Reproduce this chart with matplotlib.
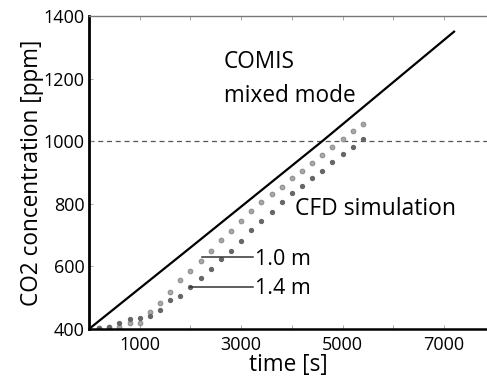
import matplotlib
matplotlib.use('Agg')
import matplotlib.pyplot as plt

plt.rcParams['font.family'] = ['Open Sans', 'DejaVu Sans']

# COMIS mixed mode (solid line)
comis_t = [0, 2000, 4600, 7200]
comis_c = [400, 660, 1000, 1350]

# CFD simulation at two heights
cfd_t = [200, 400, 600, 800, 1000, 1200, 1400, 1600, 1800, 2000, 2200, 2400, 2600, 2800,
         3000, 3200, 3400, 3600, 3800, 4000, 4200, 4400, 4600, 4800, 5000, 5200, 5400]
cfd_10 = [402, 405, 407, 418, 420, 455, 482, 519, 557, 585, 617, 650, 684, 713,
          746, 777, 805, 830, 855, 881, 905, 929, 955, 980, 1006, 1033, 1054]
cfd_14 = [402, 405, 418, 432, 434, 442, 461, 493, 506, 535, 564, 592, 623, 648,
          681, 716, 745, 775, 805, 834, 858, 883, 906, 934, 959, 982, 1008]

limit = 1000

fig = plt.figure(figsize=(4.87, 3.76), dpi=100)
ax = fig.add_axes([89/487, 1-329/376, 1-89/487, (329-16)/376])

ax.axhline(limit, color='#555555', lw=0.9, ls=(0, (4, 3)), zorder=1)
ax.plot(comis_t, comis_c, color='black', lw=1.6, zorder=3)
ax.plot(cfd_t, cfd_10, 'o', color='#a8a8a8', ms=3.3, mec='#909090', mew=0.8, zorder=2)
ax.plot(cfd_t, cfd_14, 'o', color='#666666', ms=2.8, mec='#666666', zorder=2)

# labels for the two heights
ax.plot([2230, 3230], [630, 630], color='#333333', lw=1.1)
ax.plot([1990, 3230], [535, 535], color='#333333', lw=1.1)
ax.text(3270, 604, '1.0 m', fontsize=15.5, va='baseline', ha='left')
ax.text(3270, 512, '1.4 m', fontsize=15.5, va='baseline', ha='left')

ax.text(2660, 1233, 'COMIS', fontsize=16.3, va='baseline', ha='left')
ax.text(2660, 1126, 'mixed mode', fontsize=16.3, va='baseline', ha='left')
ax.text(4060, 764, 'CFD simulation', fontsize=16.5, va='baseline', ha='left')

ax.set_xlim(0, 7850)
ax.set_ylim(400, 1400)
ax.set_xticks([1000, 3000, 5000, 7000])
ax.set_xticks([2000, 4000, 6000], minor=True)
ax.set_yticks([400, 600, 800, 1000, 1200, 1400])
ax.tick_params(which='both', direction='in', length=3, width=0.6, color='#999999',
               top=True, labelsize=13, pad=3)
ax.tick_params(axis='x', pad=5)

ax.spines['right'].set_visible(False)
ax.spines['left'].set_linewidth(2.0)
ax.spines['bottom'].set_linewidth(1.8)
ax.spines['top'].set_linewidth(1.0)
ax.spines['top'].set_color('#777777')

ax.set_xlabel('time [s]', fontsize=16.3, labelpad=-1)
ax.set_ylabel('CO2 concentration [ppm]', fontsize=16.3, labelpad=0)

fig.savefig('out.png', dpi=100)
